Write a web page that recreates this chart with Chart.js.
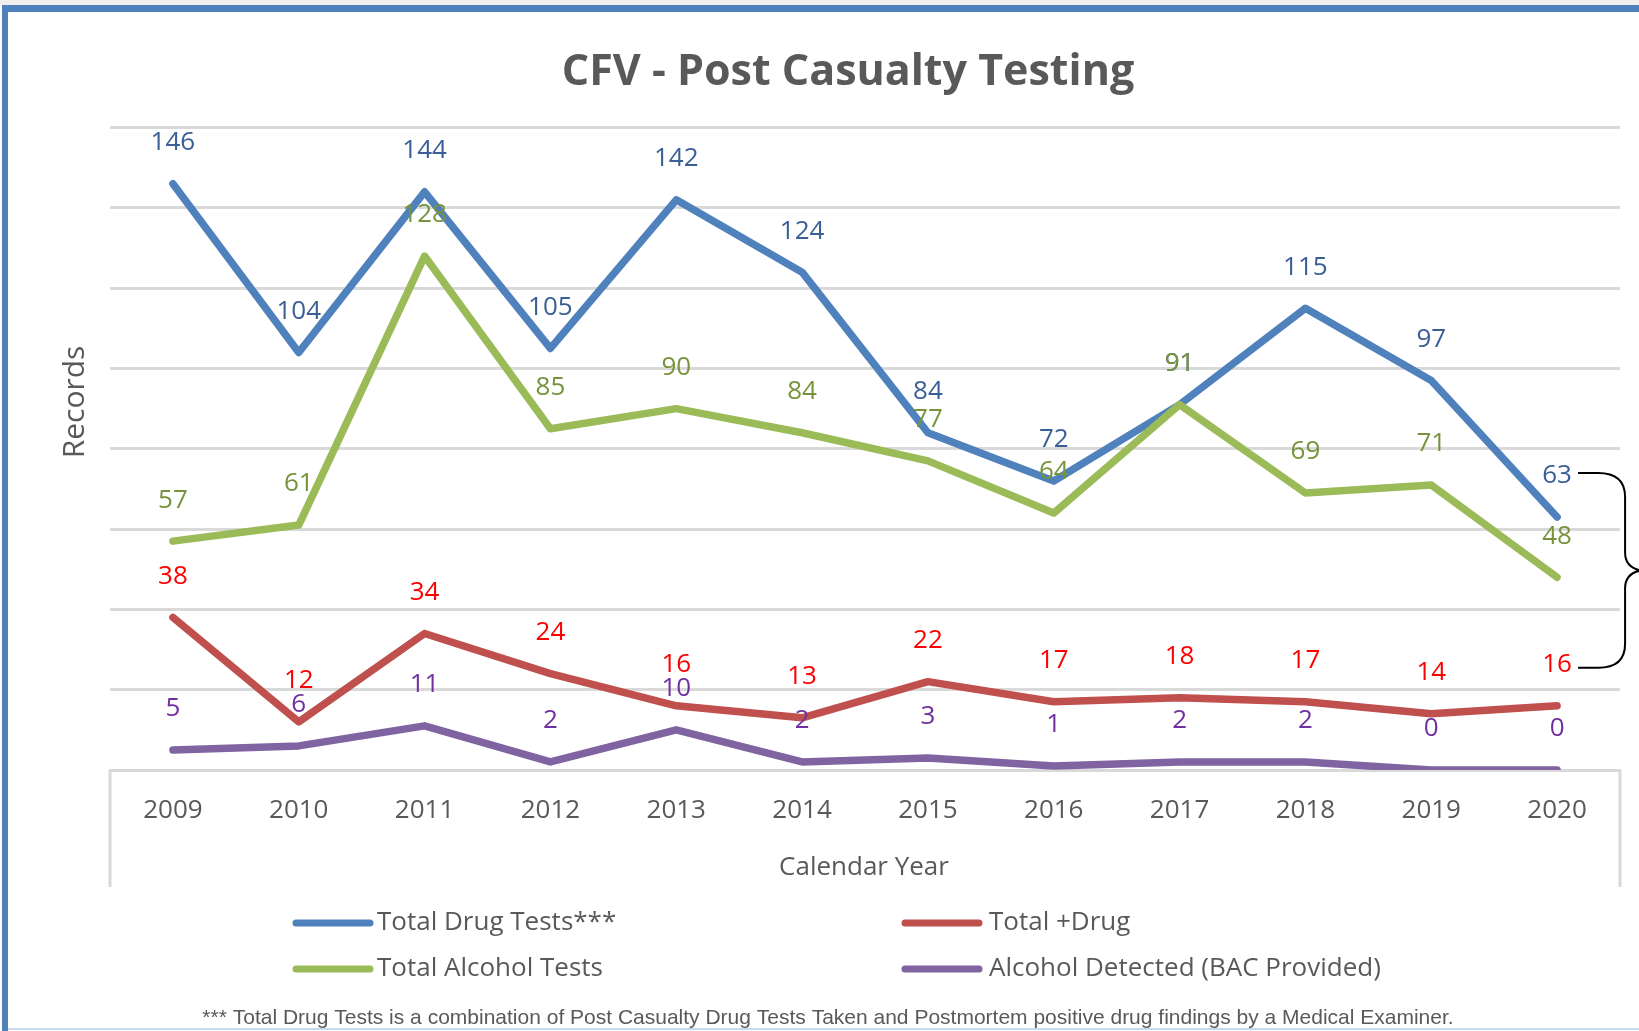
<!DOCTYPE html>
<html>
<head>
<meta charset="utf-8">
<title>CFV - Post Casualty Testing</title>
<script src="https://cdn.jsdelivr.net/npm/chart.js@4.4.1/dist/chart.umd.min.js"></script>
<style>
  html, body { margin:0; padding:0; background:#fff; }
  #wrap { position:relative; width:1639px; height:1031px; overflow:hidden; }
  #chart { position:absolute; left:0; top:0; }
  .strip { position:absolute; left:0; top:0; width:1639px; height:5px; background:#f3eeee; }
  .topbar { position:absolute; left:2px; top:5px; width:1637px; height:7px; background:#4f81bd; }
  .leftbar { position:absolute; left:2px; top:5px; width:6px; height:1026px; background:#4f81bd; }
  .bottomline { position:absolute; left:8px; top:1028px; width:1631px; height:2px; background:#c6d9f0; }
</style>
</head>
<body>
<div id="wrap">
  <canvas id="chart" width="1639" height="1031"></canvas>
  <div class="strip"></div>
  <div class="topbar"></div>
  <div class="leftbar"></div>
  <div class="bottomline"></div>
</div>
<script>
const years = ['2009','2010','2011','2012','2013','2014','2015','2016','2017','2018','2019','2020'];
const totalDrugTests = [146,104,144,105,142,124,84,72,91,115,97,63];
const totalPosDrug = [38,12,34,24,16,13,22,17,18,17,14,16];
const totalAlcoholTests = [57,61,128,85,90,84,77,64,91,69,71,48];
const alcoholDetected = [5,6,11,2,10,2,3,1,2,2,0,0];

const seriesNames = ['Total Drug Tests***','Total +Drug','Total Alcohol Tests','Alcohol Detected (BAC Provided)'];
const lineColors = ['#4f81bd','#c0504d','#9bbb59','#8064a2'];
const labelColors = ['#3a5e96','#ff0000','#77933c','#7030a0'];
const yMin = 0, yMax = 160, yStep = 20;

const footnote = '*** Total Drug Tests is a combination of Post Casualty Drug Tests Taken and Postmortem positive drug findings by a Medical Examiner.';
const gray = '#595959';

Chart.defaults.font.family = "'Open Sans', sans-serif";

// legend cells: [series index, line x, text x, y]
const legendCells = [[0,296,377,923],[1,905,989,923],[2,296,377,969],[3,905,989,969]];

const extras = {
  id:'extras',
  afterDatasetsDraw(chart){
    const ctx = chart.ctx;
    ctx.save();
    ctx.font = "26px 'Open Sans'";
    ctx.textAlign = 'center';
    ctx.textBaseline = 'middle';
    chart.data.datasets.forEach((ds, i) => {
      const meta = chart.getDatasetMeta(i);
      meta.data.forEach((pt, j) => {
        ctx.fillStyle = labelColors[i];
        ctx.fillText(String(ds.data[j]), pt.x, pt.y - 41);
      });
    });
    ctx.restore();
  },
  afterDraw(chart){
    const ctx = chart.ctx;
    const a = chart.chartArea;
    ctx.save();
    // box under category axis
    ctx.strokeStyle = '#d9d9d9';
    ctx.lineWidth = 3;
    ctx.beginPath();
    ctx.moveTo(a.left, a.bottom); ctx.lineTo(a.left, a.bottom + 117);
    ctx.moveTo(a.right, a.bottom); ctx.lineTo(a.right, a.bottom + 117);
    ctx.stroke();

    // axis titles
    ctx.fillStyle = gray;
    ctx.textAlign = 'center';
    ctx.textBaseline = 'middle';
    ctx.font = "26px 'Open Sans'";
    ctx.fillText('Calendar Year', 864, 868);
    ctx.save();
    ctx.translate(75, 402);
    ctx.rotate(-Math.PI / 2);
    ctx.font = "30px 'Open Sans'";
    ctx.fillText('Records', 0, 0);
    ctx.restore();

    // legend
    ctx.textAlign = 'left';
    ctx.font = "26px 'Open Sans'";
    legendCells.forEach(([i, lx, tx, y]) => {
      ctx.strokeStyle = lineColors[i];
      ctx.lineWidth = 7;
      ctx.lineCap = 'round';
      ctx.beginPath();
      ctx.moveTo(lx, y); ctx.lineTo(lx + 74, y);
      ctx.stroke();
      ctx.fillStyle = gray;
      ctx.fillText(seriesNames[i], tx, y);
    });

    // footnote
    ctx.textAlign = 'center';
    ctx.font = "21px 'Liberation Sans'";
    ctx.fillStyle = gray;
    ctx.fillText(footnote, 828, 1018);

    // brace joining the 2020 labels of Total Drug Tests and Total +Drug
    const last = years.length - 1;
    const pTop = chart.getDatasetMeta(0).data[last];
    const pBot = chart.getDatasetMeta(1).data[last];
    const yTop = pTop.y - 44, yBot = pBot.y - 38;
    const mid = (yTop + yBot) / 2;
    const x0 = pTop.x + 21, xv = x0 + 47;
    ctx.strokeStyle = '#000';
    ctx.lineWidth = 2;
    ctx.lineCap = 'butt';
    ctx.beginPath();
    ctx.moveTo(x0, yTop);
    ctx.lineTo(xv - 27, yTop);
    ctx.quadraticCurveTo(xv, yTop, xv, yTop + 24);
    ctx.lineTo(xv, mid - 18);
    ctx.quadraticCurveTo(xv, mid - 3, xv + 16, mid);
    ctx.quadraticCurveTo(xv, mid + 3, xv, mid + 18);
    ctx.lineTo(xv, yBot - 24);
    ctx.quadraticCurveTo(xv, yBot, xv - 27, yBot);
    ctx.lineTo(x0, yBot);
    ctx.stroke();
    ctx.restore();
  }
};

const seriesData = [totalDrugTests, totalPosDrug, totalAlcoholTests, alcoholDetected];

new Chart('chart', {
  type:'line',
  data:{
    labels: years,
    datasets: seriesData.map((d, i) => ({
      label: seriesNames[i],
      data: d,
      borderColor: lineColors[i],
      backgroundColor: lineColors[i],
      borderWidth: 7.5,
      borderCapStyle: 'round',
      borderJoinStyle: 'round',
      pointRadius: 0,
      tension: 0,
      order: 4 - i
    }))
  },
  options:{
    responsive:false,
    animation:false,
    layout:{ padding:{ left:76, right:19, top:0, bottom:0 } },
    plugins:{
      legend:{ display:false },
      tooltip:{ enabled:false },
      title:{
        display:true,
        text:'CFV - Post Casualty Testing',
        color: gray,
        font:{ size:43, weight:'bold' },
        padding:{ top:47, bottom:29 }
      }
    },
    scales:{
      x:{
        offset:true,
        grid:{ display:false, drawTicks:false },
        border:{ display:true, color:'#d9d9d9', width:3 },
        ticks:{ color: gray, font:{ size:26 }, padding:25, maxRotation:0 },
        afterFit(scale){ scale.height = 261; }
      },
      y:{
        min:yMin, max:yMax,
        ticks:{ display:false, stepSize:yStep },
        grid:{ color:'#d9d9d9', lineWidth:3, drawTicks:false },
        border:{ display:false },
        afterFit(scale){ scale.width = 34; }
      }
    }
  },
  plugins:[extras]
});
</script>
</body>
</html>
